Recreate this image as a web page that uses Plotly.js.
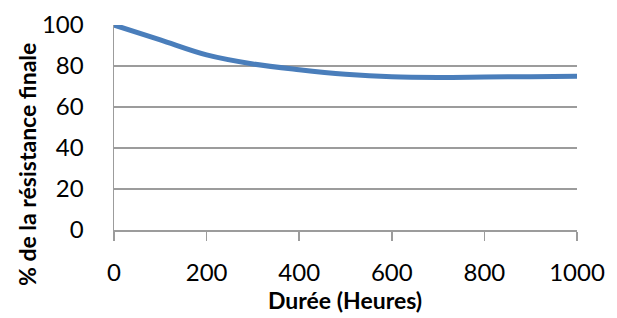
<!DOCTYPE html>
<html><head><meta charset="utf-8">
<script src="https://cdn.plot.ly/plotly-3.0.1.min.js"></script>
<style>html,body{margin:0;padding:0;background:#fff}#c{width:617px;height:318px}</style>
</head><body><div id="c"></div>
<script>
const hours = [0, 100, 200, 300, 400, 500, 600, 700, 800, 900, 1000];
const resistance = [100, 92.7, 85.4, 81, 78.2, 76, 74.7, 74.4, 74.6, 74.8, 75];
const xTicks = [0, 200, 400, 600, 800, 1000];
const yTicks = [0, 20, 40, 60, 80, 100];
const xTitle = "Durée (Heures)";
const yTitle = "% de la résistance finale";

const font = "Lato, Open Sans, sans-serif";
const L = 114, R = 577, T = 25, B = 230;
const px2x = p => (p - L) / (R - L);
const px2y = p => (B - p) / (B - T);
Plotly.newPlot('c', [{
  x: hours, y: resistance, type: 'scatter', mode: 'lines',
  line: {color: '#4a7ebb', width: 5, shape: 'spline', smoothing: 1},
  hoverinfo: 'none'
}], {
  width: 617, height: 318,
  margin: {l: L, r: 617 - R, t: T, b: 318 - B},
  paper_bgcolor: '#fff', plot_bgcolor: '#fff',
  showlegend: false,
  font: {family: font, color: '#000'},
  xaxis: {
    range: [0, 1000], tickvals: xTicks, ticktext: xTicks.map(String),
    showgrid: false, zeroline: false, showline: true, linecolor: '#9c9c9c', linewidth: 1.5,
    ticks: 'outside', ticklen: 9, tickwidth: 1.5, tickcolor: '#9c9c9c',
    tickfont: {size: 24, family: font}, ticklabelstandoff: 12
  },
  yaxis: {
    range: [0, 100], tickvals: yTicks, ticktext: yTicks.map(String),
    showgrid: true, gridcolor: '#9c9c9c', gridwidth: 1.5, zeroline: false,
    showline: true, linecolor: '#9c9c9c', linewidth: 1.5,
    ticks: '', tickfont: {size: 24, family: font}, ticklabelstandoff: 24
  },
  annotations: [
    {text: '<b>' + yTitle + '</b>', xref: 'paper', yref: 'paper', x: px2x(27), y: px2y(165),
     xanchor: 'center', yanchor: 'middle', textangle: -90, showarrow: false,
     font: {size: 23, family: font, color: '#000'}},
    {text: '<b>' + xTitle + '</b>', xref: 'paper', yref: 'paper', x: px2x(345), y: px2y(300),
     xanchor: 'center', yanchor: 'middle', showarrow: false,
     font: {size: 23, family: font, color: '#000'}}
  ]
}, {displayModeBar: false, staticPlot: true});
</script></body></html>
